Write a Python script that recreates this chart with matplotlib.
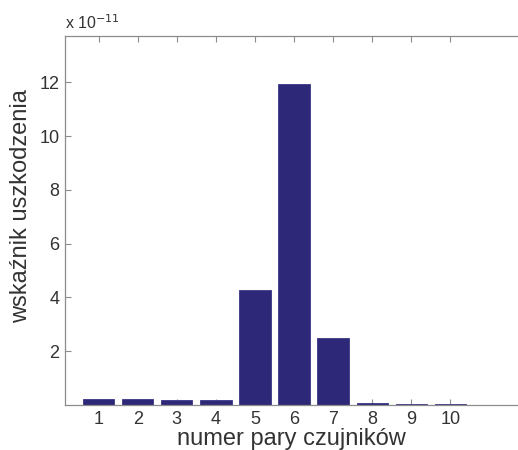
import numpy as np
import matplotlib
matplotlib.use("Agg")
import matplotlib.pyplot as plt
from matplotlib.ticker import FuncFormatter

plt.rcParams['font.family'] = ['Liberation Sans', 'DejaVu Sans']

# wskaznik uszkodzenia dla kolejnych par czujnikow (w jednostkach 1e-11)
pary = [1, 2, 3, 4, 5, 6, 7, 8, 9, 10]
wskaznik = [0.21, 0.21, 0.19, 0.17, 4.26, 11.94, 2.49, 0.08, 0.03, 0.02]
skala = 1e-11
yticks = [2, 4, 6, 8, 10, 12]

txt = '#333333'
ax_col = '#8c8c8c'

fig = plt.figure(figsize=(5.18, 4.5), dpi=100)
ax = fig.add_axes([0.1255, 0.1, 0.8745, 0.82])

ax.bar(pary, np.array(wskaznik) * skala, width=0.8, color='#2d2878',
       edgecolor='#3a3585', linewidth=0.6, zorder=2)

ax.set_xlim(0.14, 11.73)
ax.set_ylim(0, 13.72 * skala)
ax.set_xticks(pary)
ax.set_yticks(np.array(yticks) * skala)
ax.yaxis.set_major_formatter(FuncFormatter(lambda v, p: '%g' % round(v / skala, 6)))

ax.tick_params(direction='in', length=4, width=0.8, color=ax_col,
               labelcolor=txt, labelsize=13, top=True, right=False)
ax.tick_params(axis='x', pad=4)
ax.tick_params(axis='y', pad=4)
for s in ['left', 'bottom', 'top']:
    ax.spines[s].set_color(ax_col)
    ax.spines[s].set_linewidth(0.9)
ax.spines['right'].set_visible(False)

ax.set_xlabel('numer pary czujników', fontsize=17, color=txt, labelpad=0)
ax.set_ylabel('wskaźnik uszkodzenia', fontsize=17, color=txt)
ax.yaxis.set_label_coords(-0.072, 0.54)

ax.text(0.0, 1.01, 'x 10$^{-11}$', transform=ax.transAxes, fontsize=11.5,
        color=txt, ha='left', va='bottom')

fig.savefig('out.png', dpi=100)
